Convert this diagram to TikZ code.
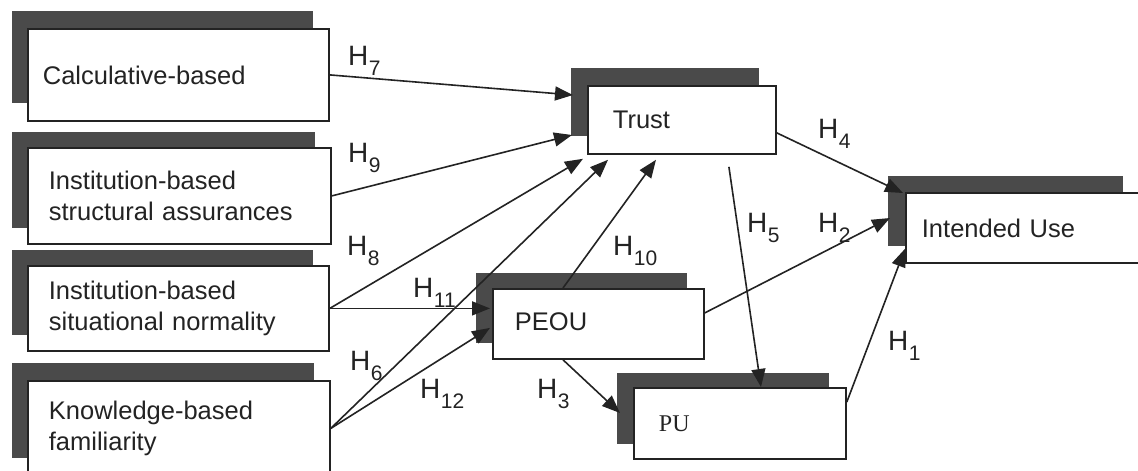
\documentclass[tikz,border=0pt]{standalone}
\usepackage{fontspec}
\setmainfont{Liberation Sans}
\newfontfamily\puserif{Liberation Serif}
\usetikzlibrary{arrows.meta,calc}
\definecolor{shd}{RGB}{74,74,74}
\definecolor{ink}{RGB}{35,35,35}
\newcommand{\Hsub}[1]{H\kern0.5pt\raisebox{-10pt}{\fontsize{21}{21}\selectfont #1}}
\begin{document}
\begin{tikzpicture}[x=1pt,y=-1pt,
  shadowbox/.style={fill=shd, draw=none, anchor=north west, inner sep=0pt, outer sep=0pt},
  mainbox/.style={fill=white, draw=ink, line width=1.8pt, anchor=north west, inner ysep=0pt, align=left, text=ink, font=\fontsize{25.5}{31}\selectfont},
  link/.style={draw=ink, line width=1.6pt, -{Triangle[length=18pt,width=14pt]}},
  hlabel/.style={anchor=base west, inner sep=0pt, text=ink, font=\fontsize{28}{28}\selectfont}]
\useasboundingbox (0,0) rectangle (1138,471);
\clip (0,0) rectangle (1138,471);
\fill[white] (0,0) rectangle (1138,471);

% left column
\node[shadowbox, minimum width=301pt, minimum height=92pt] (calcS) at (12,11) {};
\node[mainbox, inner xsep=15pt, text width=271pt, minimum height=92pt] (calc) at (27,28) {\raisebox{-5pt}{Calculative-based}};

\node[shadowbox, minimum width=303pt, minimum height=96pt] (strS) at (12,132) {};
\node[mainbox, inner xsep=21pt, text width=261pt, minimum height=96pt] (str) at (27,147) {Institution-based\\structural assurances};

\node[shadowbox, minimum width=301pt, minimum height=85pt] (sitS) at (12,250) {};
\node[mainbox, inner xsep=21pt, text width=259pt, minimum height=85pt] (sit) at (27,265) {Institution-based\\situational normality};

\node[shadowbox, minimum width=302pt, minimum height=95pt] (famS) at (12,363) {};
\node[mainbox, inner xsep=21pt, text width=260pt, minimum height=95pt] (fam) at (27,380) {\raisebox{4pt}{\begin{tabular}{@{}l@{}}Knowledge-based\\familiarity\end{tabular}}};

% middle / right
\node[shadowbox, minimum width=188pt, minimum height=68pt] (trustS) at (571,68) {};
\node[mainbox, inner xsep=25pt, text width=138pt, minimum height=68pt] (trust) at (587,85) {Trust};

\node[shadowbox, minimum width=211pt, minimum height=70pt] (peouS) at (476,273) {};
\node[mainbox, inner xsep=22pt, text width=167pt, minimum height=70pt] (peou) at (492,288) {\raisebox{5pt}{PEOU}};

\node[shadowbox, minimum width=212pt, minimum height=71pt] (puS) at (617,373) {};
\node[mainbox, inner xsep=25pt, text width=162pt, minimum height=71pt] (pu) at (633,387) {\raisebox{-8pt}{\puserif\fontsize{24}{28}\selectfont PU}};

\node[shadowbox, minimum width=235pt, minimum height=70pt] (iuS) at (888,176) {};
\node[mainbox, inner xsep=16pt, text width=203pt, minimum height=70pt] (iu) at (905,192) {Intended Use};

% connectors
\draw[link] (calc.east) -- ([xshift=2pt,yshift=-27pt]trustS.north west);
\draw[link] (str.east) -- ([xshift=1pt,yshift=-67pt]trustS.north west);
\draw[link] (sit.east) -- ([xshift=-4pt,yshift=-4pt]trust.south west);
\draw[link] (sit.east) -- ($(peou.west |- sit.east)+(-2,0)$);
\draw[link] (fam.east) -- ([xshift=21pt,yshift=-5pt]trust.south west);
\draw[link] (fam.east) -- ([xshift=-2pt,yshift=-4pt]peou.west);
\draw[link] ([xshift=71pt]peou.north west) -- ([xshift=69pt,yshift=-5pt]trust.south west);
\draw[link] ([yshift=-13pt]trust.east) -- ([xshift=-2pt,yshift=-1pt]iu.north west);
\draw[link] ([yshift=11pt]peou.east) -- ([xshift=2pt,yshift=-42pt]iuS.north west);
\draw[link] ([yshift=-15pt]pu.north east) -- ([yshift=15pt]iu.south west);
\coordinate (h5start) at ([xshift=47pt,yshift=-12pt]trust.south);
\draw[link] (h5start) -- ([xshift=128pt]pu.north west);
\draw[link] ([xshift=71pt]peou.south west) -- ([xshift=3pt,yshift=-40pt]puS.north west);

% labels
\node[hlabel] (l7) at (348,65) {\Hsub{7}};
\node[hlabel] (l9) at (348,162) {\Hsub{9}};
\node[hlabel] (l8) at (347,255) {\Hsub{8}};
\node[hlabel] (l11) at (413,297) {\Hsub{11}};
\node[hlabel] (l6) at (350,370) {\Hsub{6}};
\node[hlabel] (l12) at (420,398) {\Hsub{12}};
\node[hlabel] (l10) at (613,255) {\Hsub{10}};
\node[hlabel] (l3) at (537,398) {\Hsub{3}};
\node[hlabel] (l4) at (818,138) {\Hsub{4}};
\node[hlabel] (l5) at (747,232) {\Hsub{5}};
\node[hlabel] (l2) at (818,232) {\Hsub{2}};
\node[hlabel] (l1) at (888,350) {\Hsub{1}};
\end{tikzpicture}
\end{document}
